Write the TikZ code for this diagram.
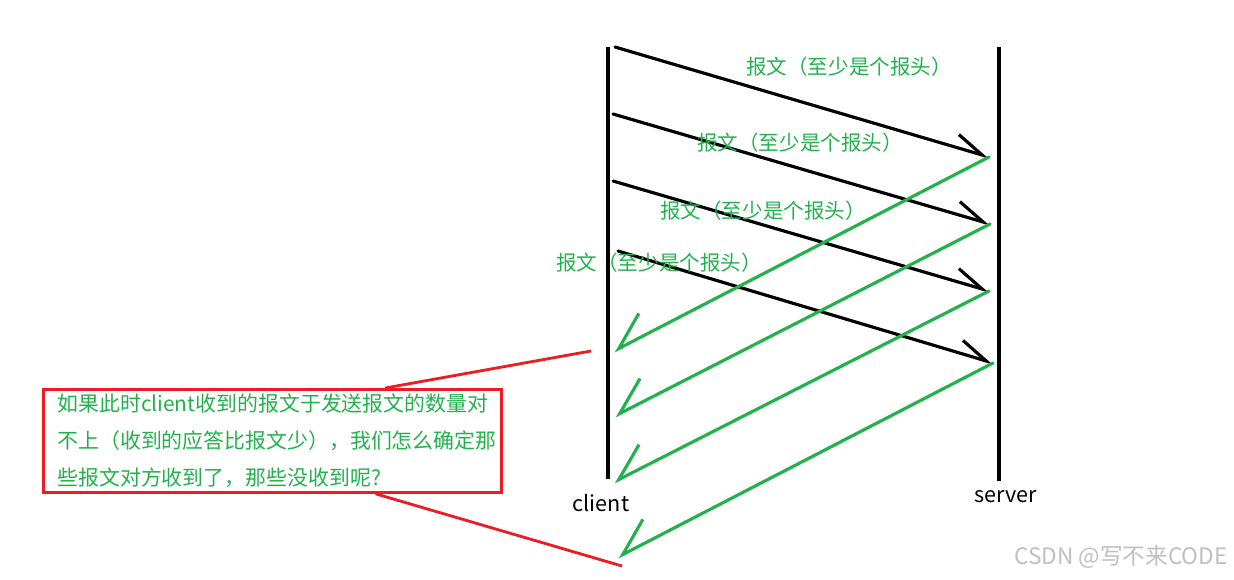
\documentclass[tikz,border=0pt]{standalone}
\usepackage{fontspec}
\usepackage{tikz}
\usetikzlibrary{arrows.meta, positioning, calc}
\newfontfamily\cjk{Noto Sans CJK SC}
\definecolor{paintgreen}{RGB}{34,177,76}
\definecolor{paintred}{RGB}{237,28,36}

\begin{document}
\begin{tikzpicture}[
  x=0.02cm, y=-0.02cm,
  every node/.style={font=\cjk},
  life/.style={line width=2.3pt},
  req/.style={line width=1.8pt, line cap=round,
    -{Straight Barb[harpoon, length=0.56cm, width=0.52cm]}},
  ack/.style={draw=paintgreen, line width=1.8pt, line cap=round,
    -{Straight Barb[harpoon, swap, length=0.68cm, width=0.88cm]}},
  hdr/.style={text=paintgreen, inner sep=0pt,
    font=\cjk\fontsize{11.7}{13}\selectfont},
  peer/.style={inner sep=0pt, font=\cjk\fontsize{12.3}{14}\selectfont},
  note/.style={draw=paintred, line width=1.6pt, text=paintgreen,
    anchor=north west, minimum width=9.16cm, minimum height=2.06cm,
    text width=8.6cm, inner xsep=0.28cm, inner ysep=0pt, align=left,
    font=\cjk\fontsize{11.9}{21}\selectfont},
  callout/.style={draw=paintred, line width=1.6pt}
]
  \useasboundingbox (0,0) rectangle (1234,579);

  % Lebenslinien
  \coordinate (ctop) at (608,47);
  \coordinate (cbot) at (608,479);
  \coordinate (stop) at (999,47);
  \coordinate (sbot) at (999,481);
  \draw[life] (ctop) -- (cbot);
  \draw[life] (stop) -- (sbot);
  \node[peer] (client) at (601,503) {client};
  \node[peer] (server) at (1006,497) {server};

  % Sendepunkte (client) und Ankunft (server)
  \coordinate (s1) at (615,47);
  \coordinate (s2) at (613,114);
  \coordinate (s3) at (613,181);
  \coordinate (s4) at (618,251);
  \coordinate (t1) at (989,157);
  \coordinate (t2) at (990,224);
  \coordinate (t3) at (989,291);
  \coordinate (t4) at (993,363);
  % Antworten zurueck beim client
  \coordinate (r1) at (614,351);
  \coordinate (r2) at (615,416);
  \coordinate (r3) at (614,482);
  \coordinate (r4) at (618,557);

  % Anfragen
  \draw[req] (s1) -- (t1);
  \draw[req] (s2) -- (t2);
  \draw[req] (s3) -- (t3);
  \draw[req] (s4) -- (t4);

  % Antworten
  \draw[ack] (t1) -- (r1);
  \draw[ack] (t2) -- (r2);
  \draw[ack] (t3) -- (r3);
  \draw[ack] (t4) -- (r4);

  % Beschriftungen
  \node[hdr] (lbl1) at (849,67) {报文（至少是个报头）};
  \node[hdr] (lbl2) at (800,143) {报文（至少是个报头）};
  \node[hdr] (lbl3) at (763,211) {报文（至少是个报头）};
  \node[hdr] (lbl4) at (659,263) {报文（至少是个报头）};

  % Frage-Kasten
  \node[note] (question) at (42,388)
    {如果此时client收到的报文于发送报文的数量对\\
     不上（收到的应答比报文少），我们怎么确定那\\
     些报文对方收到了，那些没收到呢?};
  \coordinate (qtop) at (591,351);
  \coordinate (qbot) at (622,566);
  \draw[callout] ($(question.north west)!0.745!(question.north east)$) -- (qtop);
  \draw[callout] ($(question.south west)!0.724!(question.south east)$) -- (qbot);

  \node[text=black!25, inner sep=0pt, font=\cjk\fontsize{12.9}{14}\selectfont]
    (mark) at (1121,557) {CSDN @写不来CODE};
\end{tikzpicture}
\end{document}
